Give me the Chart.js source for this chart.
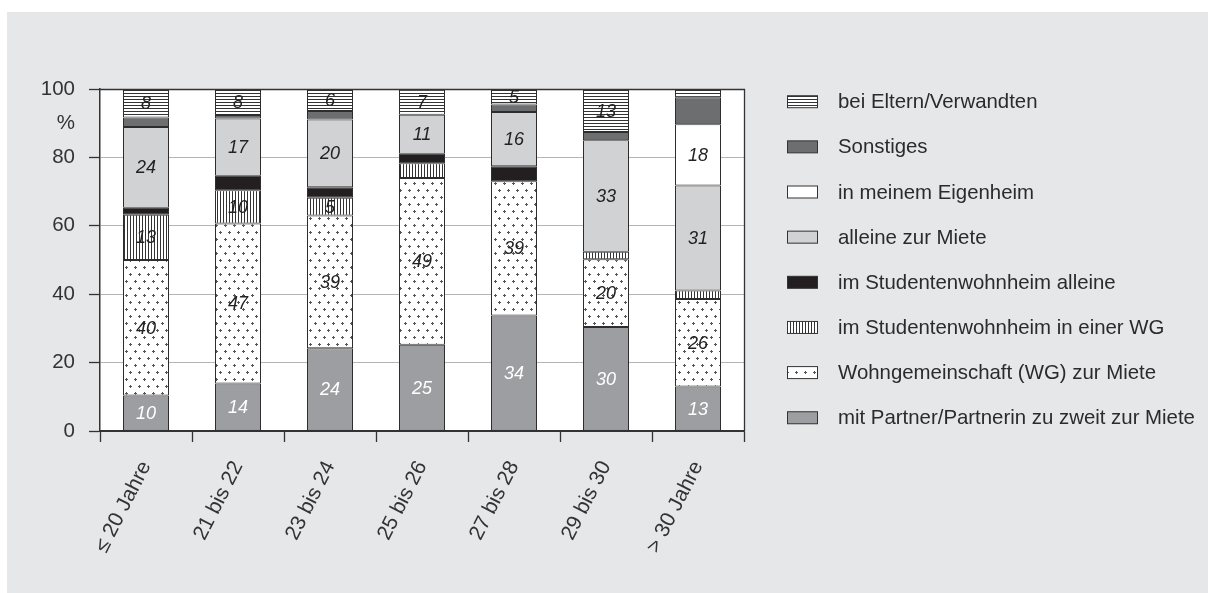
<!DOCTYPE html>
<html><head><meta charset="utf-8">
<script src="https://cdn.jsdelivr.net/npm/chart.js@4.4.0/dist/chart.umd.min.js"></script>
<style>
html,body{margin:0;padding:0;background:#fff;width:1208px;height:593px;overflow:hidden}
#wrap{position:absolute;left:7px;top:12px;width:1201px;height:581px;background:#e6e7e8}
canvas{display:block}
</style></head><body>
<div id="wrap"><canvas id="c" width="1201" height="581"></canvas></div>
<script>
// ---- data (stack order bottom -> top) ----
const categories = ['≤ 20 Jahre', '21 bis 22', '23 bis 24', '25 bis 26', '27 bis 28', '29 bis 30', '> 30 Jahre'];
const partner        = [10.4, 13.9, 24.2, 25.2, 33.8, 30.4, 13.0];
const wg             = [39.6, 46.8, 38.8, 48.8, 39.2, 19.8, 25.6];
const wohnheimWG     = [13.2,  9.7,  5.2,  4.3,  0.0,  2.2,  2.5];
const wohnheimAllein = [ 2.1,  4.2,  3.1,  2.8,  4.4,  0.0,  0.0];
const alleinMiete    = [23.6, 16.8, 19.8, 11.4, 15.9, 32.6, 30.7];
const eigenheim      = [ 0.0,  0.0,  0.0,  0.0,  0.0,  0.0, 17.9];
const sonstiges      = [ 2.8,  1.0,  2.5,  0.0,  2.2,  2.4,  7.9];
const eltern         = [ 8.3,  7.6,  6.4,  7.4,  4.5, 12.6,  2.4];
const yTickValues = [0, 20, 40, 60, 80, 100];
const yUnitLabel = '%';

const FONT = "'Liberation Sans', Arial, Helvetica, sans-serif";
Chart.defaults.font.family = FONT;

const mainCtx = document.getElementById('c').getContext('2d');
function pattern(w, h, draw) {
  const c = document.createElement('canvas');
  c.width = w; c.height = h;
  const g = c.getContext('2d');
  g.fillStyle = '#ffffff'; g.fillRect(0, 0, w, h);
  g.fillStyle = '#333333';
  draw(g);
  return mainCtx.createPattern(c, 'repeat');
}
const hLines = pattern(3, 3, g => g.fillRect(0, 0, 3, 1));
const vLines = pattern(3, 3, g => g.fillRect(0, 0, 1, 3));
const dots = pattern(9, 14, g => {
  g.fillStyle = '#555555';
  const plus = (x, y) => { g.fillRect(x - 1, y, 3, 1); g.fillRect(x, y - 1, 1, 3); };
  plus(2, 3); plus(6, 10);
});

const common = { borderColor: '#2d2d2d', borderWidth: 1, borderSkipped: false, barPercentage: 1, categoryPercentage: 0.5 };
const datasets = [
  { label: 'mit Partner/Partnerin zu zweit zur Miete', data: partner, backgroundColor: '#9d9ea1', showValues: true, valueColor: '#ffffff' },
  { label: 'Wohngemeinschaft (WG) zur Miete', data: wg, backgroundColor: dots, showValues: true },
  { label: 'im Studentenwohnheim in einer WG', data: wohnheimWG, backgroundColor: vLines, showValues: true },
  { label: 'im Studentenwohnheim alleine', data: wohnheimAllein, backgroundColor: '#231f20', showValues: false },
  { label: 'alleine zur Miete', data: alleinMiete, backgroundColor: '#d1d2d4', showValues: true },
  { label: 'in meinem Eigenheim', data: eigenheim, backgroundColor: '#ffffff', showValues: true },
  { label: 'Sonstiges', data: sonstiges, backgroundColor: '#6d6e70', showValues: false },
  { label: 'bei Eltern/Verwandten', data: eltern, backgroundColor: hLines, showValues: true }
].map(d => Object.assign({}, common, d));

const plotBg = {
  id: 'plotBg',
  beforeDraw(chart) {
    const { ctx, chartArea: a } = chart;
    ctx.save(); ctx.fillStyle = '#ffffff';
    ctx.fillRect(a.left, a.top, a.right - a.left, a.bottom - a.top);
    ctx.restore();
  },
  afterDatasetsDraw(chart) {
    const { ctx, chartArea: a } = chart;
    ctx.save(); ctx.strokeStyle = '#333333'; ctx.lineWidth = 1.3;
    ctx.beginPath();
    ctx.moveTo(a.left, a.top + 0.5); ctx.lineTo(a.right + 0.5, a.top + 0.5); ctx.lineTo(a.right + 0.5, a.bottom);
    ctx.stroke(); ctx.restore();
  }
};

const valueLabels = {
  id: 'valueLabels',
  afterDatasetsDraw(chart) {
    const ctx = chart.ctx;
    ctx.save();
    ctx.font = "italic 18px " + FONT;
    ctx.textAlign = 'center'; ctx.textBaseline = 'middle';
    chart.data.datasets.forEach((ds, di) => {
      if (!ds.showValues) return;
      const meta = chart.getDatasetMeta(di);
      meta.data.forEach((bar, i) => {
        const v = ds.data[i];
        if (v < 4.5) return;
        const p = bar.getProps(['x', 'y', 'base'], true);
        ctx.fillStyle = ds.valueColor || '#222222';
        ctx.fillText(String(Math.round(v)), p.x, (p.y + p.base) / 2 + 1);
      });
    });
    ctx.restore();
  }
};

const sideLegend = {
  id: 'sideLegend',
  afterDraw(chart) {
    const { ctx, chartArea: a } = chart;
    const items = chart.data.datasets.slice().reverse();
    ctx.save();
    ctx.font = "20.4px " + FONT;
    ctx.textAlign = 'left'; ctx.textBaseline = 'middle';
    items.forEach((ds, i) => {
      const cy = a.top + 12.7 + i * 45.15;
      const bx = a.right + 43.5;
      ctx.fillStyle = ds.backgroundColor;
      ctx.fillRect(bx, cy - 6, 30, 12);
      ctx.strokeStyle = '#333333'; ctx.lineWidth = 1;
      ctx.strokeRect(bx, cy - 6, 30, 12);
      ctx.fillStyle = '#2b2b2b';
      ctx.fillText(ds.label, bx + 50.5, cy + 1);
    });
    ctx.restore();
  }
};

new Chart(document.getElementById('c'), {
  type: 'bar',
  data: { labels: categories, datasets },
  options: {
    responsive: false,
    animation: false,
    layout: { padding: { top: 77, right: 464, bottom: 0, left: 0 } },
    plugins: { legend: { display: false }, tooltip: { enabled: false }, title: { display: false } },
    scales: {
      x: {
        stacked: true,
        grid: { offset: true, drawOnChartArea: false, tickColor: '#333333', tickLength: 11, tickWidth: 1.3 },
        border: { color: '#333333', width: 2 },
        ticks: { autoSkip: false, minRotation: 63, maxRotation: 63, padding: 15, color: '#333333', font: { size: 21 } },
        afterFit: s => { s.height = 162; }
      },
      y: {
        stacked: true, min: 0, max: 100,
        afterBuildTicks: s => {
          s.ticks = [];
          for (let v = 0; v <= 100; v += 10) s.ticks.push({ value: v });
        },
        ticks: {
          autoSkip: false, padding: 14, color: '#333333', font: { size: 20.5 },
          callback: v => yTickValues.includes(v) ? String(v) : (v === 90 ? yUnitLabel : '')
        },
        grid: {
          color: c => (c.tick && yTickValues.includes(c.tick.value) && c.tick.value > 0 && c.tick.value < 100) ? '#b4b4b4' : 'rgba(0,0,0,0)',
          tickColor: c => (c.tick && yTickValues.includes(c.tick.value)) ? '#333333' : 'rgba(0,0,0,0)',
          tickLength: 11, lineWidth: 1, tickWidth: 1.3
        },
        border: { color: '#333333', width: 1.5 },
        afterFit: s => { s.width = 93; }
      }
    }
  },
  plugins: [plotBg, valueLabels, sideLegend]
});
</script>
</body></html>
